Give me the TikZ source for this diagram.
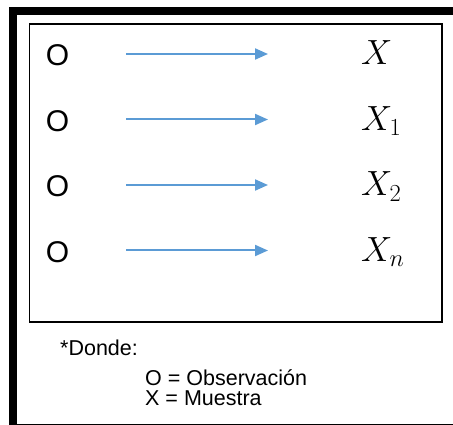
\RequirePackage{fix-cm}
\documentclass[tikz,border=0pt]{standalone}
\usepackage{fontspec}
\setmainfont{Liberation Sans}
\usetikzlibrary{arrows.meta,positioning}
\definecolor{ArrowBlue}{HTML}{5B9BD5}

\begin{document}
\begin{tikzpicture}[x=1pt, y=-1pt, every node/.style={inner sep=0pt},
  obs/.style={font=\fontsize{30}{34}\selectfont, anchor=base},
  var/.style={font=\fontsize{35}{40}\selectfont, anchor=base west},
  link/.style={ArrowBlue, line width=2pt, -{Triangle[length=13pt,width=11pt]}},
  legend/.style={font=\fontsize{21.5}{26}\selectfont, anchor=base west}]
  \useasboundingbox (0,0) rectangle (453,425);
  \clip (0,0) rectangle (453,425);
  % frames
  \draw[line width=8pt] (13,11.5) rectangle (470,428);
  \draw[line width=1.8pt] (29.5,24) rectangle (442,322);
  % rows
  \foreach \i/\y/\lbl in {1/66/X, 2/131.5/X_1, 3/197/X_2, 4/262.5/X_n} {
    \node[obs] (o\i) at (57.5,\y) {O};
    \node[var] (x\i) at (361,\y-1) {$\lbl$};
    \coordinate (s\i) at (126,\y-12);
    \coordinate (e\i) at (268,\y-12);
    \draw[link] (s\i) -- (e\i);
  }
  % legend
  \node[legend] (where) at (60,355) {*Donde:};
  \node[legend] (obskey) at (145,385) {O = Observación};
  \node[legend] (varkey) at (145,405) {X = Muestra};
\end{tikzpicture}
\end{document}
